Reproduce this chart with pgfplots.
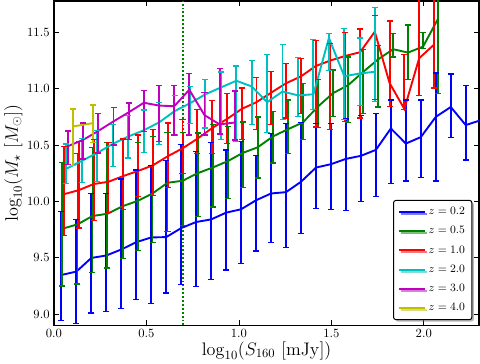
\documentclass[border=0pt]{standalone}
\usepackage{pgfplots}
\pgfplotsset{compat=1.18}
\usepackage{pgfplotstable}
\usetikzlibrary{shadows}

\definecolor{mplb}{rgb}{0,0,1}
\definecolor{mplg}{rgb}{0,0.5,0}
\definecolor{mplr}{rgb}{1,0,0}
\definecolor{mplc}{rgb}{0,0.75,0.75}
\definecolor{mplm}{rgb}{0.75,0,0.75}
\definecolor{mply}{rgb}{0.75,0.75,0}

% columns: x, median, upper and lower end of the error bar
\pgfplotstableread{
x     y      hi     lo
0.040 9.347  9.913  8.94
0.121 9.377  9.84   8.915
0.202 9.498  10.073 9.01
0.283 9.52   10.073 9.02
0.364 9.573  10.198 9.05
0.445 9.638  10.278 9.13
0.526 9.68   10.32  9.097
0.607 9.683  10.36  9.186
0.688 9.763  10.505 9.26
0.769 9.817  10.44  9.245
0.850 9.84   10.52  9.31
0.931 9.90   10.455 9.39
1.012 9.93   10.53  9.45
1.093 10.01  10.41  9.56
1.174 10.07  10.605 9.636
1.255 10.082 10.69  9.588
1.336 10.174 10.70  9.713
1.417 10.30  10.69  9.94
1.498 10.33  10.69  9.93
1.579 10.377 10.73  9.918
1.660 10.404 10.76  9.998
1.741 10.457 10.78  10.04
1.822 10.647 10.90  10.16
1.903 10.513 10.90  10.18
1.984 10.57  10.90  10.21
2.065 10.75  11.14  10.18
2.146 10.837 11.13  10.567
2.227 10.677 11.03  10.368
2.308 10.72  11.10  10.30
}\zA

\pgfplotstableread{
x     y      hi     lo
0.045 9.757  10.347 9.25
0.127 9.796  10.427 9.266
0.208 9.87   10.48  9.367
0.289 9.89   10.52  9.41
0.371 9.957  10.546 9.49
0.452 10.004 10.525 9.567
0.533 10.07  10.576 9.636
0.614 10.165 10.609 9.734
0.696 10.183 10.61  9.787
0.777 10.25  10.607 9.868
0.858 10.30  10.68  9.95
0.940 10.357 10.665 10.025
1.021 10.43  10.704 10.123
1.102 10.48  10.749 10.207
1.184 10.576 10.80  10.34
1.265 10.64  10.90  10.427
1.346 10.70  11.043 10.55
1.427 10.84  11.08  10.656
1.509 10.96  11.165 10.755
1.590 11.03  11.28  10.70
1.671 11.147 11.35  10.78
1.753 11.26  11.38  10.837
1.834 11.35  11.49  11.28
1.915 11.32  11.564 11.08
1.996 11.373 11.50  11.356
2.078 11.623 12.2   10.96
}\zB

\pgfplotstableread{
x     y      hi     lo
0.055 10.064 10.487 9.698
0.135 10.10  10.53  9.763
0.215 10.154 10.546 9.832
0.295 10.174 10.52  9.90
0.375 10.225 10.56  9.93
0.455 10.27  10.59  10.04
0.535 10.32  10.636 10.05
0.615 10.40  10.695 10.12
0.695 10.47  10.725 10.25
0.775 10.555 10.814 10.427
0.855 10.65  10.895 10.427
0.935 10.73  10.957 10.516
1.015 10.82  11.007 10.546
1.095 10.88  11.096 10.636
1.175 10.965 11.15  10.68
1.255 11.048 11.225 10.74
1.335 11.108 11.27  10.78
1.415 11.20  11.43  10.66
1.495 11.25  11.40  10.64
1.575 11.29  11.50  10.71
1.655 11.323 11.53  10.74
1.735 11.505 11.65  10.906
1.815 11.05  11.60  10.84
1.895 10.82  11.305 10.814
1.975 11.27  12.2   10.94
2.055 11.39  12.2   11.007
}\zC

\pgfplotstableread{
x     y      hi     lo
0.067 10.29  10.51  10.16
0.151 10.36  10.56  10.165
0.234 10.43  10.63  10.174
0.318 10.51  10.68  10.31
0.401 10.575 10.76  10.385
0.485 10.63  10.81  10.435
0.568 10.70  10.88  10.505
0.652 10.80  10.94  10.59
0.735 10.87  11.02  10.69
0.819 10.95  11.08  10.65
0.902 11.01  11.147 10.546
0.986 11.07  11.20  10.53
1.069 11.02  11.25  10.68
1.153 10.88  11.30  10.61
1.236 10.975 11.39  10.725
1.320 10.94  11.275 10.755
1.403 10.95  11.433 10.814
1.487 11.45  11.49  11.16
1.570 11.11  11.534 10.725
1.654 11.135 11.45  10.85
1.737 11.15  11.72  10.888
}\zD

\pgfplotstableread{
x     y      hi     lo
0.076 10.49  10.625 10.33
0.158 10.546 10.695 10.375
0.240 10.625 10.778 10.43
0.322 10.71  10.836 10.50
0.404 10.79  10.873 10.55
0.486 10.875 10.985 10.62
0.568 10.85  11.03  10.53
0.650 10.844 11.03  10.59
0.732 10.99  11.133 10.59
0.814 10.765 10.963 10.59
0.896 10.683 11.178 10.597
0.978 10.70  10.98  10.545
}\zE

\pgfplotstableread{
x     y      hi     lo
0.104 10.665 10.82  10.32
0.213 10.695 10.855 10.525
}\zF

\pgfplotsset{
  errstyle/.style={error bars/.cd, y dir=both, y explicit, error mark=none,
    error bar style={line width=1.5pt}},
  capstyle/.style={only marks, mark=-, mark size=2.4pt,
    mark options={line width=1pt}, forget plot},
}

\begin{document}
\begin{tikzpicture}
\begin{axis}[
    scale only axis,
    width=338pt, height=258pt,
    xmin=0, xmax=2.3, ymin=8.9, ymax=11.78,
    xtick={0,0.5,1.0,1.5,2.0},
    ytick={9.0,9.5,10.0,10.5,11.0,11.5},
    xticklabel style={/pgf/number format/.cd, fixed, fixed zerofill, precision=1},
    yticklabel style={/pgf/number format/.cd, fixed, fixed zerofill, precision=1},
    tick label style={font=\normalsize},
    label style={font=\Large},
    xlabel={$\log_{10}(S_{160}\ [\mathrm{mJy}])$},
    ylabel={$\log_{10}(M_\star\ [M_\odot])$},
    xlabel style={yshift=4pt},
    ylabel style={yshift=-3pt},
    axis line style={line width=1.2pt},
    major tick length=4pt,
    tick style={black, line width=0.6pt},
    legend style={at={(0.984,0.016)}, anchor=south east, draw=black,
        line width=0.8pt, rounded corners=2pt, fill=white,
        drop shadow={shadow xshift=1.6pt, shadow yshift=-1.6pt, fill=black!55},
        font=\small, row sep=4pt, inner sep=3.5pt},
    legend image code/.code={\draw[#1, line width=1.5pt] (0pt,0pt) -- (21pt,0pt);},
]
\addplot[draw=mplg, line width=1.6pt, dash pattern=on 1.5pt off 1.6pt, forget plot]
    coordinates {(0.7,8.9) (0.7,11.78)};

% z = 0.2
\addplot[mplb, line width=1.5pt, errstyle] table[x=x, y=y,
    y error plus expr=\thisrow{hi}-\thisrow{y},
    y error minus expr=\thisrow{y}-\thisrow{lo}] {\zA};
\addplot[mplb, capstyle] table[x=x, y=hi] {\zA};
\addplot[mplb, capstyle] table[x=x, y=lo] {\zA};
% z = 0.5
\addplot[mplg, line width=1.5pt, errstyle] table[x=x, y=y,
    y error plus expr=\thisrow{hi}-\thisrow{y},
    y error minus expr=\thisrow{y}-\thisrow{lo}] {\zB};
\addplot[mplg, capstyle] table[x=x, y=hi] {\zB};
\addplot[mplg, capstyle] table[x=x, y=lo] {\zB};
% z = 1.0
\addplot[mplr, line width=1.5pt, errstyle] table[x=x, y=y,
    y error plus expr=\thisrow{hi}-\thisrow{y},
    y error minus expr=\thisrow{y}-\thisrow{lo}] {\zC};
\addplot[mplr, capstyle] table[x=x, y=hi] {\zC};
\addplot[mplr, capstyle] table[x=x, y=lo] {\zC};
% z = 2.0
\addplot[mplc, line width=1.5pt, errstyle] table[x=x, y=y,
    y error plus expr=\thisrow{hi}-\thisrow{y},
    y error minus expr=\thisrow{y}-\thisrow{lo}] {\zD};
\addplot[mplc, capstyle] table[x=x, y=hi] {\zD};
\addplot[mplc, capstyle] table[x=x, y=lo] {\zD};
% z = 3.0
\addplot[mplm, line width=1.5pt, errstyle] table[x=x, y=y,
    y error plus expr=\thisrow{hi}-\thisrow{y},
    y error minus expr=\thisrow{y}-\thisrow{lo}] {\zE};
\addplot[mplm, capstyle] table[x=x, y=hi] {\zE};
\addplot[mplm, capstyle] table[x=x, y=lo] {\zE};
% z = 4.0
\addplot[mply, line width=1.5pt, errstyle] table[x=x, y=y,
    y error plus expr=\thisrow{hi}-\thisrow{y},
    y error minus expr=\thisrow{y}-\thisrow{lo}] {\zF};
\addplot[mply, capstyle] table[x=x, y=hi] {\zF};
\addplot[mply, capstyle] table[x=x, y=lo] {\zF};

\legend{$z = 0.2$, $z = 0.5$, $z = 1.0$, $z = 2.0$, $z = 3.0$, $z = 4.0$}
\end{axis}
\end{tikzpicture}
\end{document}
